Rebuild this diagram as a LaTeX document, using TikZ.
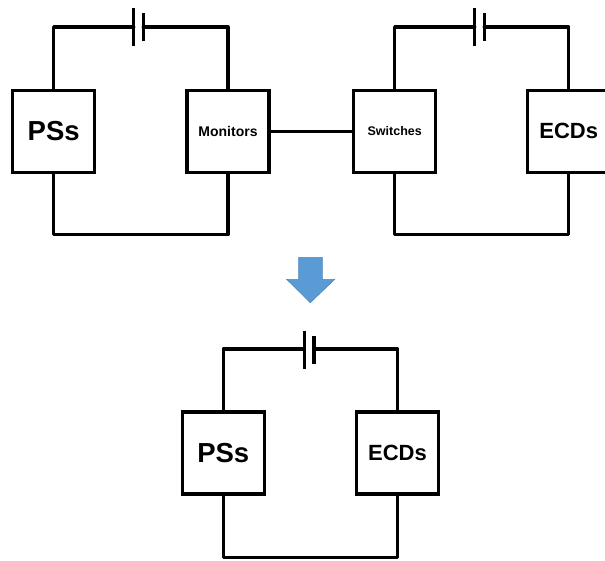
\documentclass[tikz,border=0pt]{standalone}
\usepackage{fontspec}
\setmainfont{Liberation Sans}
\definecolor{arrowfill}{HTML}{5B9BD5}
\definecolor{arrowedge}{HTML}{4A86BD}
\tikzset{
  unitbox/.style={draw=black,line width=3.3pt,fill=white,minimum width=82pt,minimum height=82pt,inner sep=0pt,font=\bfseries},
  wire/.style={draw=black,line width=3.3pt,line join=round,line cap=round},
  plate/.style={draw=black,line width=3.3pt,line cap=butt},
  bigtext/.style={font=\bfseries\fontsize{27.5}{30}\selectfont},
  midtext/.style={font=\bfseries\fontsize{22}{24}\selectfont}
}
\begin{document}
\begin{tikzpicture}[x=1pt,y=-1pt]
\clip (0,0) rectangle (605,560);
\useasboundingbox (0,0) rectangle (605,560);

% top-left circuit
\node[unitbox,bigtext] (pa) at (53.7,131.3) {PSs};
\node[unitbox] (mon) at (228,131.3) {\fontsize{14}{16}\selectfont Monitors};
\coordinate (ala) at (133.7,27);
\coordinate (alb) at (143.3,27);
\coordinate (bot1) at (140,234.7);
\draw[wire] (pa.north) |- (ala);
\draw[wire] (mon.north) |- (alb);
\draw[wire] (pa.south) |- (bot1) -| (mon.south);
\draw[plate] (133.7,8) -- (133.7,46);
\draw[plate] (143.3,13) -- (143.3,41);

% top-right circuit
\node[unitbox] (sw) at (394.7,131.3) {\fontsize{12.5}{14}\selectfont Switches};
\node[unitbox,midtext] (ea) at (568.7,131.3) {ECDs};
\coordinate (bla) at (474.7,27);
\coordinate (blb) at (484.3,27);
\coordinate (bot2) at (480,234.7);
\draw[wire] (sw.north) |- (bla);
\draw[wire] (ea.north) |- (blb);
\draw[wire] (sw.south) |- (bot2) -| (ea.south);
\draw[plate] (474.7,8) -- (474.7,46);
\draw[plate] (484.3,13) -- (484.3,41);

% link
\draw[wire,line cap=butt] (mon.east) -- (sw.west);

% arrow
\draw[draw=arrowedge,fill=arrowfill,line width=0.6pt,line join=miter]
  (298.7,257.3) -- (322.3,257.3) -- (322.3,279.3) -- (334.7,279.3) -- (310.3,302.7)
  -- (286.7,279.3) -- (298.7,279.3) -- cycle;

% bottom circuit
\node[unitbox,bigtext] (pb) at (223.3,453) {PSs};
\node[unitbox,midtext] (eb) at (397.5,453) {ECDs};
\coordinate (cla) at (304.3,349);
\coordinate (clb) at (314,349);
\coordinate (bot3) at (310,557.3);
\draw[wire] (pb.north) |- (cla);
\draw[wire] (eb.north) |- (clb);
\draw[wire] (pb.south) |- (bot3) -| (eb.south);
\draw[plate] (304.3,331) -- (304.3,369.3);
\draw[plate] (314,336) -- (314,364);
\end{tikzpicture}
\end{document}
